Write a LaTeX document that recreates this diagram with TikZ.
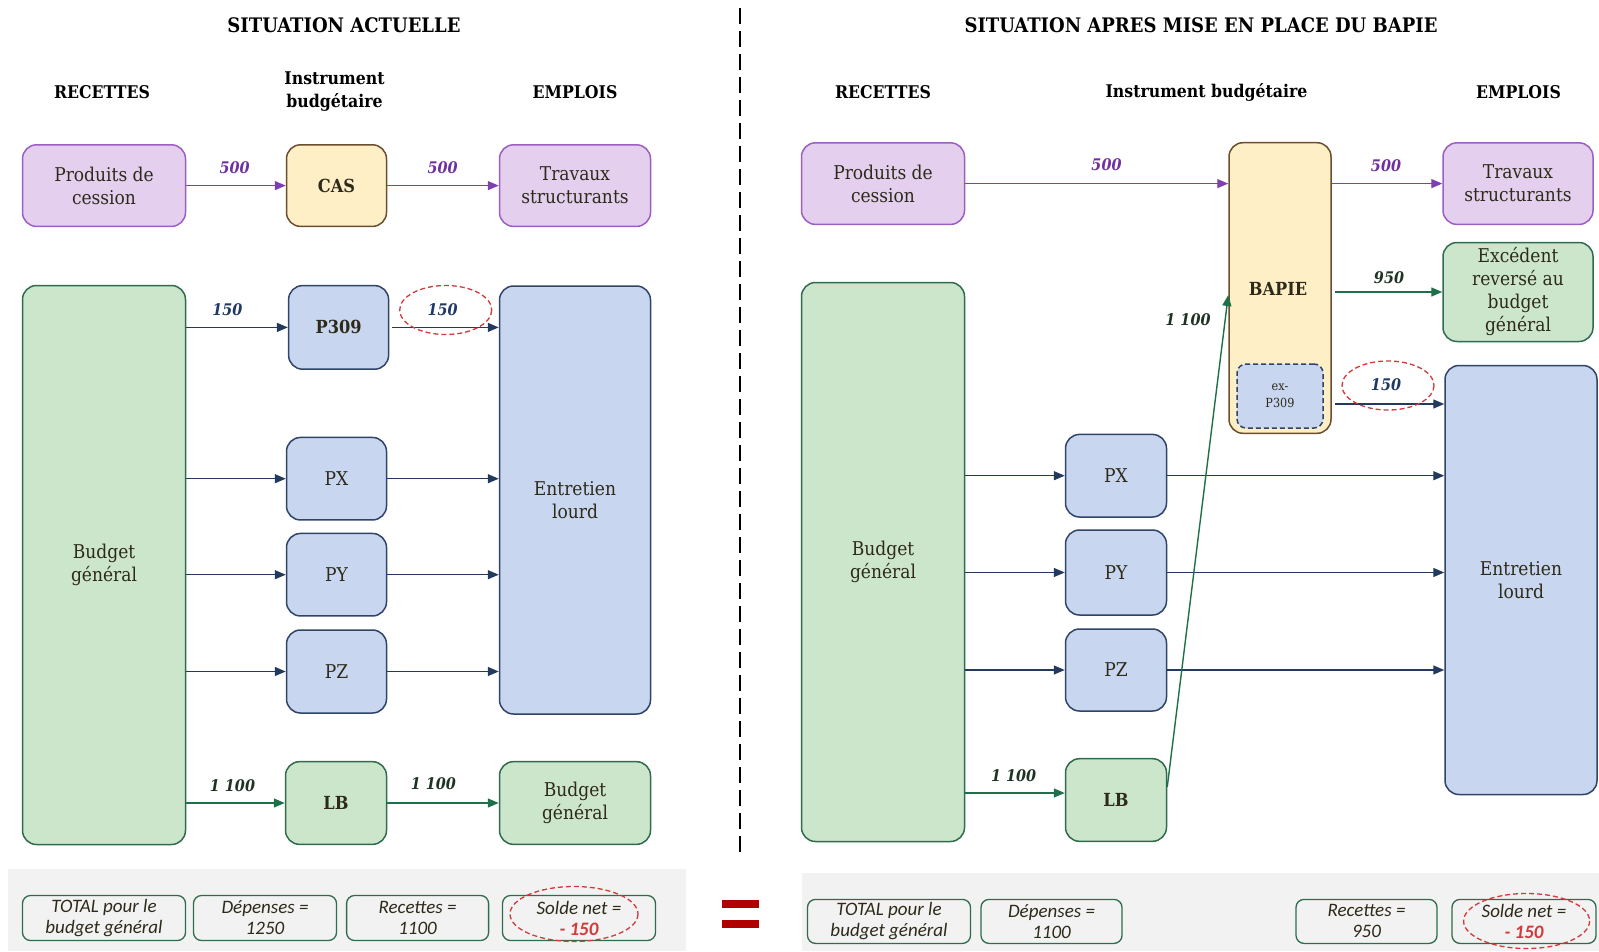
\documentclass[tikz,border=0pt]{standalone}
\usepackage{fontspec}
\setmainfont{DejaVu Serif Condensed}
\newfontfamily\totfont{Carlito}
\usetikzlibrary{arrows.meta,calc}
\definecolor{purpleFill}{HTML}{E4D0EE}
\definecolor{purpleLine}{HTML}{9C5FC0}
\definecolor{purpleArrow}{HTML}{7E3FB2}
\definecolor{purpleLabel}{HTML}{7030A0}
\definecolor{yellowFill}{HTML}{FFEFC6}
\definecolor{yellowLine}{HTML}{6B4E2E}
\definecolor{blueFill}{HTML}{C8D6EF}
\definecolor{blueLine}{HTML}{2F4468}
\definecolor{navyArrow}{HTML}{23395D}
\definecolor{navyLabel}{HTML}{1F3864}
\definecolor{greenFill}{HTML}{CCE6CB}
\definecolor{greenLine}{HTML}{2F6B4C}
\definecolor{greenArrow}{HTML}{1D7048}
\definecolor{greenLabel}{HTML}{1E3324}
\definecolor{bodyText}{HTML}{2E2A1A}
\definecolor{redMark}{HTML}{D03A3A}
\definecolor{eqRed}{HTML}{B00000}
\definecolor{band}{HTML}{F2F2F2}
\tikzset{
  x=1pt, y=-1pt,
  box/.style={draw, line width=1.5pt, rounded corners=14pt, align=center,
    text=bodyText, inner sep=2pt, font=\fontsize{19}{23}\selectfont},
  purplebox/.style={box, fill=purpleFill, draw=purpleLine},
  yellowbox/.style={box, fill=yellowFill, draw=yellowLine, font=\fontsize{18}{23}\selectfont\bfseries},
  bluebox/.style={box, fill=blueFill, draw=blueLine},
  greenbox/.style={box, fill=greenFill, draw=greenLine},
  boldlabel/.style={font=\fontsize{18}{23}\selectfont\bfseries},
  totbox/.style={draw=greenLine, line width=1.3pt, rounded corners=8pt, align=center,
    text=bodyText, font=\totfont\itshape\fontsize{19}{21}\selectfont, inner sep=1pt},
  head/.style={font=\fontsize{20}{22}\selectfont\bfseries, text=black, align=center},
  colhead/.style={font=\fontsize{17.5}{23}\selectfont\bfseries, text=black, align=center},
  flow/.style={line width=1.4pt, -{Triangle[length=11pt,width=9pt]}},
  pflow/.style={flow, draw=purpleArrow, color=purpleArrow},
  nflow/.style={flow, draw=navyArrow, color=navyArrow},
  gflow/.style={flow, draw=greenArrow, color=greenArrow},
  num/.style={font=\fontsize{16}{18}\selectfont\bfseries\itshape, inner sep=0pt},
  redring/.style={draw=redMark, line width=1.3pt, dash pattern=on 5pt off 3pt},
}
\begin{document}
\begin{tikzpicture}
\useasboundingbox (0,0) rectangle (1599,951);

% ---------- grey bands behind the totals
\fill[band] (8,869) rectangle (686,951);
\fill[band] (801.6,873) rectangle (1599,951);

% ---------- separator
\draw[line width=2.6pt, dash pattern=on 16pt off 7pt] (740,8) -- (740,857);

% ---------- headings
\node[head] (t1) at (344,25.5) {SITUATION ACTUELLE};
\node[head] (t2) at (1201,25.5) {SITUATION APRES MISE EN PLACE DU BAPIE};
\node[colhead] (h1a) at (102,92) {RECETTES};
\node[colhead] (h1b) at (334.5,91.5) {Instrument\\budgétaire};
\node[colhead] (h1c) at (575,92) {EMPLOIS};
\node[colhead] (h2a) at (883,92) {RECETTES};
\node[colhead] (h2b) at (1206.5,92) {Instrument budgétaire};
\node[colhead] (h2c) at (1518.5,92) {EMPLOIS};

% ================= current situation
\node[purplebox, minimum width=163pt, minimum height=81.6pt] (pc1) at (104,185.6) {Produits de\\cession};
\node[yellowbox, minimum width=100pt, minimum height=81.6pt] (cas) at (336.5,185.6) {CAS};
\node[purplebox, minimum width=151pt, minimum height=81.6pt] (ts1) at (575,185.6) {Travaux\\structurants};

\node[greenbox, minimum width=163pt, minimum height=559pt] (bg1) at (104,565) {Budget\\général};
\node[bluebox, boldlabel, minimum width=100pt, minimum height=83.6pt] (p309) at (338.6,327.4) {P309};
\node[bluebox, minimum width=151pt, minimum height=428pt] (el1) at (575,500) {Entretien\\lourd};
\node[bluebox, minimum width=100pt, minimum height=82.5pt] (px1) at (336.5,478.7) {PX};
\node[bluebox, minimum width=100pt, minimum height=82.5pt] (py1) at (336.5,574.7) {PY};
\node[bluebox, minimum width=100pt, minimum height=83pt] (pz1) at (336.5,671.5) {PZ};
\node[greenbox, boldlabel, minimum width=101pt, minimum height=82.7pt] (lb1) at (336,803) {LB};
\node[greenbox, minimum width=151pt, minimum height=82.7pt] (bgo1) at (575,803) {Budget\\général};

\draw[pflow] (pc1.east) -- (cas.west);
\draw[pflow] (cas.east) -- (ts1.west);
\node[num, text=purpleLabel] (n500a) at (234.6,168) {500};
\node[num, text=purpleLabel] (n500b) at (442.6,168) {500};

\draw[nflow] (bg1.east |- p309.west) -- (p309.west);
\draw[nflow, shorten <=3pt] (p309.east) -- (el1.west |- p309.east);
\node[num, text=navyLabel] (n150a) at (227.4,309.5) {150};
\node[num, text=navyLabel] (n150b) at (442.6,309.5) {150};
\draw[redring] (445.7,310) ellipse [x radius=46, y radius=24.5];

\draw[nflow] (bg1.east |- px1.west) -- (px1.west);
\draw[nflow] (px1.east) -- (el1.west |- px1.east);
\draw[nflow] (bg1.east |- py1.west) -- (py1.west);
\draw[nflow] (py1.east) -- (el1.west |- py1.east);
\draw[nflow] (bg1.east |- pz1.west) -- (pz1.west);
\draw[nflow] (pz1.east) -- (el1.west |- pz1.east);

\draw[gflow] (bg1.east |- lb1.west) -- (lb1.west);
\draw[gflow] (lb1.east) -- (bgo1.west);
\node[num, text=greenLabel] (n1100a) at (232.5,786) {1 100};
\node[num, text=greenLabel] (n1100b) at (433.4,784) {1 100};

% totals, current situation
\node[totbox, minimum width=163pt, minimum height=45pt] (tot1) at (104,918) {TOTAL pour le\\budget général};
\node[totbox, minimum width=143pt, minimum height=45pt] (dep1) at (265,918) {Dépenses =\\1250};
\node[totbox, minimum width=142pt, minimum height=45pt] (rec1) at (417.6,918) {Recettes =\\1100};
\node[totbox, minimum width=153pt, minimum height=45pt] (sol1) at (579,918) {Solde net =\\\textcolor{redMark}{\bfseries - 150}};
\draw[redring] (574,914) ellipse [x radius=64, y radius=27.5];

% equals sign
\fill[eqRed] (722,899.5) rectangle (759,907.7);
\fill[eqRed] (722,920) rectangle (759,928);

% ================= situation with the BAPIE
\node[purplebox, minimum width=163pt, minimum height=81.6pt] (pc2) at (883,183.6) {Produits de\\cession};
\node[yellowbox, minimum width=102pt, minimum height=290.6pt] (bapie) at (1280,288) {};
\node[boldlabel, text=bodyText] (bapiet) at (1278,288.6) {BAPIE};
\node[bluebox, draw=blueLine, dash pattern=on 5pt off 3pt, rounded corners=9pt, minimum width=86pt, minimum height=64pt,
  font=\fontsize{12.5}{17}\selectfont] (exp) at (1280,396) {ex-\\P309};
\node[purplebox, minimum width=150pt, minimum height=81.6pt] (ts2) at (1518,183.6) {Travaux\\structurants};
\node[greenbox, minimum width=150pt, minimum height=99pt] (exc) at (1518,292) {Excédent\\reversé au\\budget\\général};
\node[bluebox, minimum width=152pt, minimum height=429pt] (el2) at (1521,580) {Entretien\\lourd};
\node[greenbox, minimum width=163pt, minimum height=559pt] (bg2) at (883,562) {Budget\\général};
\node[bluebox, minimum width=101pt, minimum height=82.6pt] (px2) at (1116,475.7) {PX};
\node[bluebox, minimum width=101pt, minimum height=85pt] (py2) at (1116,572.5) {PY};
\node[bluebox, minimum width=101pt, minimum height=82pt] (pz2) at (1116,670) {PZ};
\node[greenbox, boldlabel, minimum width=101pt, minimum height=82.6pt] (lb2) at (1116,800) {LB};

\draw[pflow] (pc2.east) -- (bapie.west |- pc2.east);
\draw[pflow] (bapie.east |- ts2.west) -- (ts2.west);
\node[num, text=purpleLabel] (n500c) at (1106.5,165) {500};
\node[num, text=purpleLabel] (n500d) at (1386,166) {500};

\draw[gflow, shorten <=3pt] (bapie.east |- exc.west) -- (exc.west);
\node[num, text=greenLabel] (n950) at (1389,278) {950};

\coordinate (exout) at ($(bapie.east |- exp.east)+(0,8)$);
\draw[nflow, shorten <=3pt] (exout) -- (el2.west |- exout);
\node[num, text=navyLabel] (n150c) at (1386,385) {150};
\draw[redring] (1388,385.5) ellipse [x radius=46, y radius=24.5];

\draw[nflow] (bg2.east |- px2.west) -- (px2.west);
\draw[nflow] (px2.east) -- (el2.west |- px2.east);
\draw[nflow] (bg2.east |- py2.west) -- (py2.west);
\draw[nflow] (py2.east) -- (el2.west |- py2.east);
\draw[nflow] (bg2.east |- pz2.west) -- (pz2.west);
\draw[nflow] (pz2.east) -- (el2.west |- pz2.east);

\draw[gflow] ($(bg2.east |- lb2.west)+(0,-7)$) -- ($(lb2.west)+(0,-7)$);
\node[num, text=greenLabel] (n1100c) at (1013.7,776) {1 100};
\draw[gflow] ($(lb2.east)+(0,-13)$) -- ($(bapie.west)+(0,7)$);
\node[num, text=greenLabel] (n1100d) at (1188,320) {1 100};

% totals, situation with the BAPIE
\node[totbox, minimum width=163pt, minimum height=44pt] (tot2) at (889,921.4) {TOTAL pour le\\budget général};
\node[totbox, minimum width=141pt, minimum height=44pt] (dep2) at (1051.5,921.4) {Dépenses =\\1100};
\node[totbox, minimum width=141pt, minimum height=44pt] (rec2) at (1366.5,921.4) {Recettes =\\950};
\node[totbox, minimum width=144pt, minimum height=44pt] (sol2) at (1524,921.4) {Solde net =\\\textcolor{redMark}{\bfseries - 150}};
\draw[redring] (1526.6,921) ellipse [x radius=63, y radius=27.5];
\end{tikzpicture}
\end{document}
